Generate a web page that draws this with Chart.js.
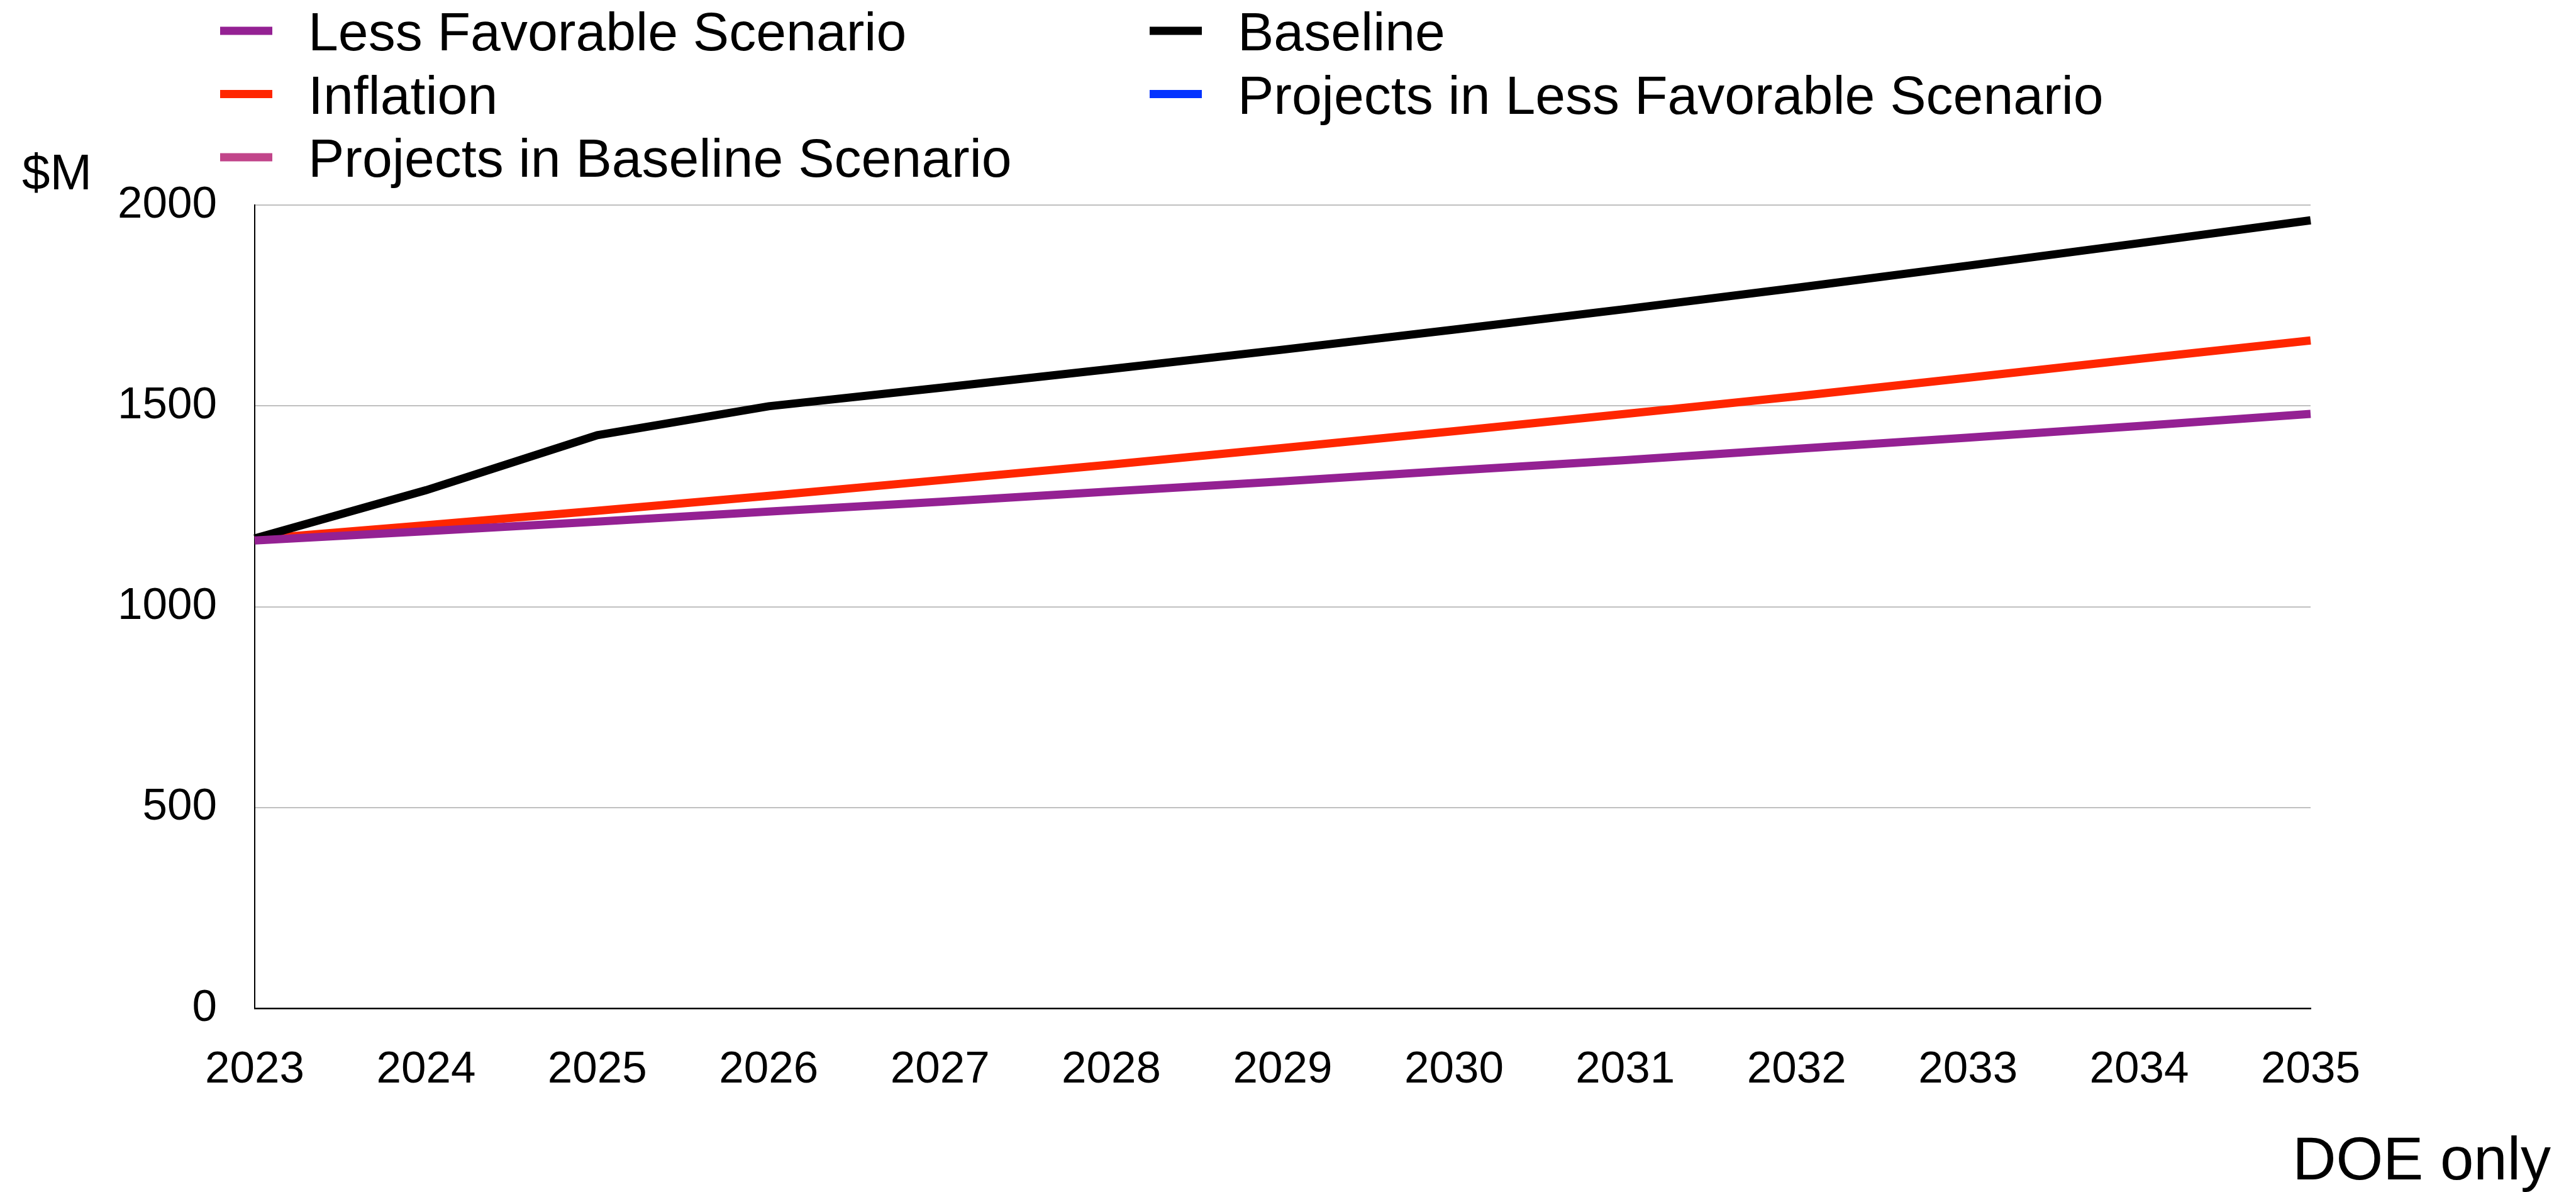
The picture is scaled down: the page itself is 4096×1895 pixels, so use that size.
<!DOCTYPE html>
<html>
<head>
<meta charset="utf-8">
<script src="https://cdn.jsdelivr.net/npm/chart.js@4.4.0/dist/chart.umd.min.js"></script>
<style>
  html, body { margin: 0; padding: 0; background: #fff; }
  #wrap { width: 4096px; height: 1895px; }
</style>
</head>
<body>
<div id="wrap"><canvas id="myChart" width="4096" height="1895"></canvas></div>
<script>
const years = ['2023', '2024', '2025', '2026', '2027', '2028', '2029', '2030', '2031', '2032', '2033', '2034', '2035'];
const lessFavorable = [1165, 1188, 1212, 1237, 1261, 1287, 1312, 1339, 1365, 1393, 1421, 1450, 1480];
const baseline = [1170, 1290, 1427, 1499, 1545, 1592, 1640, 1690, 1741, 1794, 1849, 1905, 1962];
const inflation = [1168, 1203, 1239, 1276, 1315, 1354, 1395, 1437, 1480, 1524, 1570, 1617, 1663];
const projectsLessFavorable = [];
const projectsBaseline = [];
const yTicks = [0, 500, 1000, 1500, 2000];

// legend is laid out in two columns, read top to bottom
const legendColumns = [
  ['Less Favorable Scenario', 'Inflation', 'Projects in Baseline Scenario'],
  ['Baseline', 'Projects in Less Favorable Scenario']
];

const FONT = "'Liberation Sans', Arial, Helvetica, sans-serif";

const extraText = {
  id: 'extraText',
  afterDraw(chart) {
    const ctx = chart.ctx;
    ctx.save();
    const colX = [350, 1828];
    const rowY = [49, 149.5, 250];
    ctx.font = '86px ' + FONT;
    ctx.textBaseline = 'alphabetic';
    ctx.textAlign = 'left';
    legendColumns.forEach((col, c) => {
      col.forEach((label, r) => {
        const ds = chart.data.datasets.find(d => d.label === label);
        ctx.fillStyle = ds.borderColor;
        ctx.fillRect(colX[c], rowY[r] - 6.5, 83, 13);
        ctx.fillStyle = '#000';
        ctx.fillText(label, colX[c] + 140, rowY[r] + 31);
      });
    });

    ctx.font = '80px ' + FONT;
    ctx.fillText('$M', 35, 301);

    ctx.font = '96px ' + FONT;
    ctx.textAlign = 'right';
    ctx.fillText('DOE only', 4056, 1875);
    ctx.restore();
  }
};

function line(label, data, color) {
  return {
    label: label,
    data: data,
    borderColor: color,
    backgroundColor: color,
    borderWidth: 13,
    pointRadius: 0,
    tension: 0,
    borderJoinStyle: 'miter',
    borderCapStyle: 'butt',
    fill: false
  };
}

const config = {
  type: 'line',
  data: {
    labels: years,
    datasets: [
      line('Less Favorable Scenario', lessFavorable, '#942193'),
      line('Baseline', baseline, '#000000'),
      line('Inflation', inflation, '#FF2600'),
      line('Projects in Less Favorable Scenario', projectsLessFavorable, '#0433FF'),
      line('Projects in Baseline Scenario', projectsBaseline, '#C1458A')
    ]
  },
  options: {
    responsive: false,
    animation: false,
    devicePixelRatio: 1,
    layout: { padding: { left: 0, top: 326, right: 422, bottom: 0 } },
    plugins: {
      legend: { display: false },
      tooltip: { enabled: false }
    },
    scales: {
      x: {
        offset: false,
        grid: { display: false, drawTicks: false },
        border: { display: true, color: '#000', width: 2.5 },
        ticks: {
          color: '#000',
          font: { family: FONT, size: 71 },
          padding: 56,
          maxRotation: 0,
          autoSkip: false
        },
        afterFit(scale) { scale.height = 292; }
      },
      y: {
        min: 0,
        max: 2000,
        afterBuildTicks(scale) { scale.ticks = yTicks.map(v => ({ value: v })); },
        grid: { color: '#C0C0C0', lineWidth: 2, drawTicks: false },
        border: { display: true, color: '#000', width: 2 },
        ticks: {
          color: '#000',
          font: { family: FONT, size: 71 },
          padding: 60,
          callback: (v) => String(v)
        },
        afterFit(scale) { scale.width = 405; }
      }
    }
  },
  plugins: [extraText]
};

new Chart(document.getElementById('myChart'), config);
</script>
</body>
</html>
